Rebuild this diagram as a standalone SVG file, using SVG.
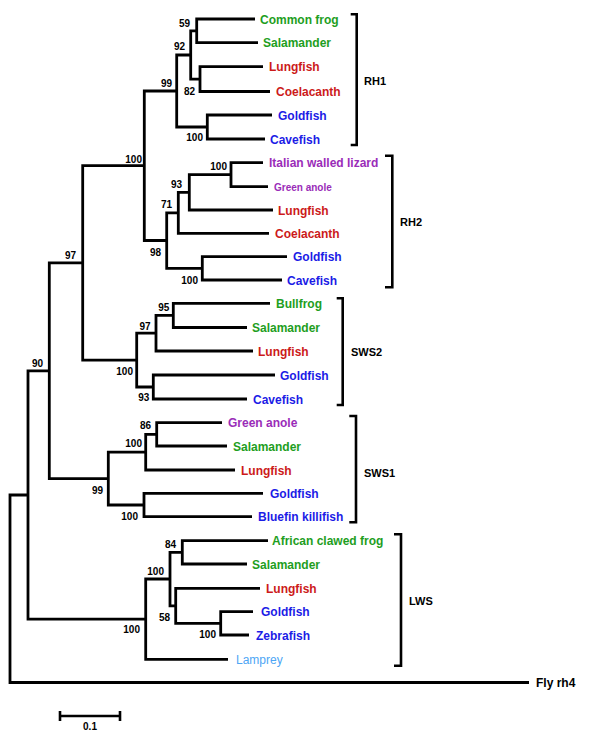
<svg xmlns="http://www.w3.org/2000/svg" width="600" height="737" viewBox="0 0 600 737">
<style>
text{font-family:"Liberation Sans",Arial,sans-serif;font-weight:bold}
.br{fill:none;stroke:#000;stroke-width:2.8;stroke-linejoin:miter}
.bk{fill:none;stroke:#000;stroke-width:2.6}
.lf{font-size:12px}
.bs{font-size:10px;text-anchor:end;fill:#000}
.cl{font-size:11px;fill:#000}
.g{fill:#1e9e1e}.r{fill:#cc1a1a}.b{fill:#1c1ce6}.p{fill:#9a2cb8}.lb{fill:#4da6f5}.k{fill:#000}
</style>
<rect width="600" height="737" fill="#fff"/>
<g id="connectors">
<!-- RH1 -->
<path class="br" d="M255 19H196.7V42.7H258"/>
<path class="br" d="M263 66.7H200V91.5H270"/>
<path class="br" d="M196.7 30.8H190.7V79.1H200"/>
<path class="br" d="M272 115H207.3V139H265"/>
<path class="br" d="M190.7 55H176.7V127H207.3"/>
<!-- RH2 -->
<path class="br" d="M263 162.7H231V186.7H268"/>
<path class="br" d="M231 174.7H189.3V210H273"/>
<path class="br" d="M189.3 192.3H178.3V233.3H269"/>
<path class="br" d="M287 256.7H202.3V280H282"/>
<path class="br" d="M178.3 212.8H166.7V268.3H202.3"/>
<path class="br" d="M176.7 91H144.3V240.5H166.7"/>
<!-- SWS2 -->
<path class="br" d="M270 303.3H173.3V327.5H247"/>
<path class="br" d="M173.3 315.4H156V351H253"/>
<path class="br" d="M275 375H153.3V399H247"/>
<path class="br" d="M156 333.2H136.7V387H153.3"/>
<path class="br" d="M144.3 165.7H82.7V360.1H136.7"/>
<!-- SWS1 -->
<path class="br" d="M222 422.7H156.7V446H227"/>
<path class="br" d="M156.7 434.3H145.7V470H235"/>
<path class="br" d="M263 493.3H144V516.7H252"/>
<path class="br" d="M145.7 452.2H108.3V505H144"/>
<path class="br" d="M82.7 262.9H49.3V478.6H108.3"/>
<!-- LWS -->
<path class="br" d="M268 540.7H182.3V564H247"/>
<path class="br" d="M253 611.7H220.7V635H249"/>
<path class="br" d="M260 588.3H175.7V623.3H220.7"/>
<path class="br" d="M182.3 552.3H170V605.8H175.7"/>
<path class="br" d="M170 579H145.7V659.3H228"/>
<path class="br" d="M49.3 370.8H28V619.2H145.7"/>
<path class="br" d="M28 495H10V682.5H529"/>
</g>
<g id="brackets">
<path class="bk" d="M350.7 14.3H356.7V145H350.7"/>
<path class="bk" d="M385 155.7H392.3V287.3H385"/>
<path class="bk" d="M336.7 298.3H342.7V405H336.7"/>
<path class="bk" d="M349.3 416H356V522.3H349.3"/>
<path class="bk" d="M394 534.3H401V665.7H394"/>
</g>
<g id="clade-labels">
<text id="RH1" class="cl" x="364" y="84.5">RH1</text>
<text id="RH2" class="cl" x="400" y="225.7">RH2</text>
<text id="SWS2" class="cl" x="351" y="355.7">SWS2</text>
<text id="SWS1" class="cl" x="364" y="476.7">SWS1</text>
<text id="LWS" class="cl" x="409" y="605">LWS</text>
</g>
<g id="leaves" class="lf">
<g id="leaf1"><text class="g" x="260" y="23.5">Common frog</text></g>
<g id="leaf2"><text class="g" x="263" y="47.2">Salamander</text></g>
<g id="leaf3"><text class="r" x="269" y="71.2">Lungfish</text></g>
<g id="leaf4"><text class="r" x="276" y="96">Coelacanth</text></g>
<g id="leaf5"><text class="b" x="278" y="119.5">Goldfish</text></g>
<g id="leaf6"><text class="b" x="270" y="143.5">Cavefish</text></g>
<g id="leaf7"><text class="p" x="269" y="167.2">Italian walled lizard</text></g>
<g id="leaf8"><text class="p" x="274" y="190.5" style="font-size:10px">Green anole</text></g>
<g id="leaf9"><text class="r" x="278" y="214.5">Lungfish</text></g>
<g id="leaf10"><text class="r" x="275" y="237.8">Coelacanth</text></g>
<g id="leaf11"><text class="b" x="293" y="261.2">Goldfish</text></g>
<g id="leaf12"><text class="b" x="287" y="284.5">Cavefish</text></g>
<g id="leaf13"><text class="g" x="276" y="307.8">Bullfrog</text></g>
<g id="leaf14"><text class="g" x="252" y="332">Salamander</text></g>
<g id="leaf15"><text class="r" x="258" y="355.5">Lungfish</text></g>
<g id="leaf16"><text class="b" x="280" y="379.5">Goldfish</text></g>
<g id="leaf17"><text class="b" x="253" y="403.5">Cavefish</text></g>
<g id="leaf18"><text class="p" x="228" y="427.2">Green anole</text></g>
<g id="leaf19"><text class="g" x="233" y="450.5">Salamander</text></g>
<g id="leaf20"><text class="r" x="241" y="474.5">Lungfish</text></g>
<g id="leaf21"><text class="b" x="270" y="497.8">Goldfish</text></g>
<g id="leaf22"><text class="b" x="258" y="521.2">Bluefin killifish</text></g>
<g id="leaf23"><text class="g" x="272" y="545.2">African clawed frog</text></g>
<g id="leaf24"><text class="g" x="252" y="568.5">Salamander</text></g>
<g id="leaf25"><text class="r" x="266" y="592.8">Lungfish</text></g>
<g id="leaf26"><text class="b" x="261" y="616.2">Goldfish</text></g>
<g id="leaf27"><text class="b" x="256" y="639.5">Zebrafish</text></g>
<g id="leaf28"><text class="lb" x="236" y="663.8" style="font-weight:normal">Lamprey</text></g>
<g id="leaf29"><text class="k" x="536" y="687">Fly rh4</text></g>
</g>
<g id="bootstrap">
<g id="n59"><text class="bs" x="190" y="27.1">59</text></g>
<g id="n82"><text class="bs" x="195" y="94.6">82</text></g>
<g id="n92"><text class="bs" x="185" y="49.6">92</text></g>
<g id="n100a"><text class="bs" x="203" y="140.6">100</text></g>
<g id="n99"><text class="bs" x="172" y="87.1">99</text></g>
<g id="n100b"><text class="bs" x="227" y="169.6">100</text></g>
<g id="n93"><text class="bs" x="182" y="187.6">93</text></g>
<g id="n71"><text class="bs" x="172" y="207.6">71</text></g>
<g id="n100c"><text class="bs" x="198" y="283.6">100</text></g>
<g id="n98"><text class="bs" x="161" y="255.6">98</text></g>
<g id="n100d"><text class="bs" x="142" y="162.6">100</text></g>
<g id="n95"><text class="bs" x="169.3" y="311.3">95</text></g>
<g id="n97b"><text class="bs" x="150.7" y="329.6">97</text></g>
<g id="n93b"><text class="bs" x="149.3" y="400.9">93</text></g>
<g id="n100e"><text class="bs" x="133" y="374.6">100</text></g>
<g id="n97"><text class="bs" x="76" y="258.6">97</text></g>
<g id="n86"><text class="bs" x="151" y="429.2">86</text></g>
<g id="n100f"><text class="bs" x="142" y="447.3">100</text></g>
<g id="n100g"><text class="bs" x="138" y="519.6">100</text></g>
<g id="n99b"><text class="bs" x="103" y="493.6">99</text></g>
<g id="n90"><text class="bs" x="43" y="366.6">90</text></g>
<g id="n84"><text class="bs" x="176" y="548.1">84</text></g>
<g id="n100h"><text class="bs" x="216" y="638.3">100</text></g>
<g id="n58"><text class="bs" x="170" y="620.6">58</text></g>
<g id="n100i"><text class="bs" x="164" y="574.6">100</text></g>
<g id="n100j"><text class="bs" x="140" y="633.3">100</text></g>
</g>
<g id="scale-bar">
<path class="bk" d="M60 716H120M60 711V721M120 711V721"/>
<text x="90" y="730" style="font-size:10px;text-anchor:middle">0.1</text>
</g>
</svg>
